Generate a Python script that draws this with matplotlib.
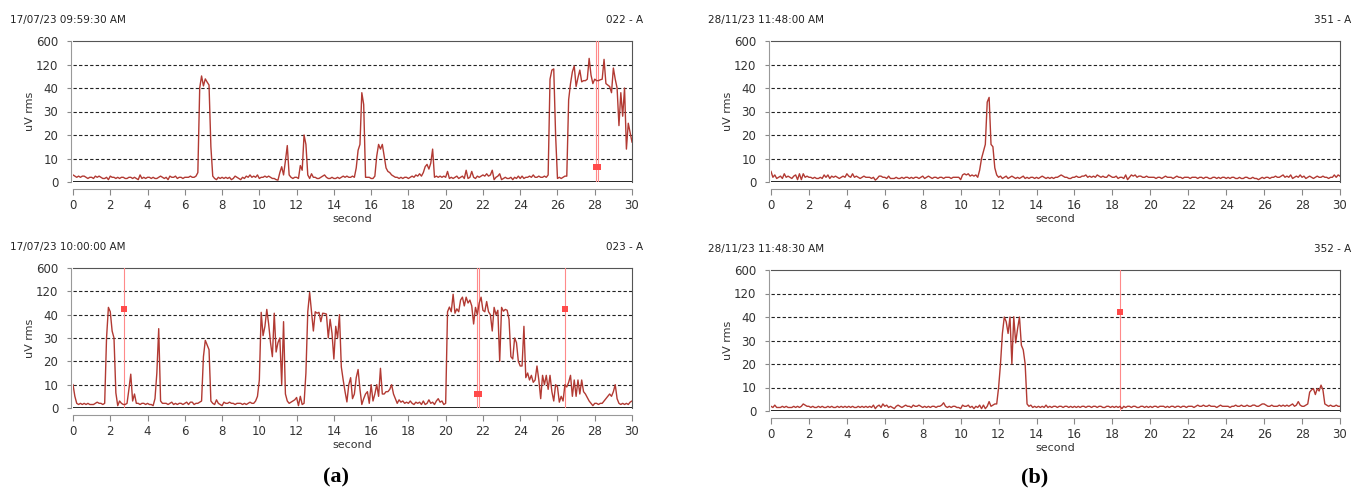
import numpy as np
import matplotlib
matplotlib.use("Agg")
import matplotlib.pyplot as plt

# y axis of the recorder: equal steps for these levels (uV rms)
levels = [0, 10, 20, 30, 40, 120, 600]
steps = [0, 1, 2, 3, 4, 5, 6]

t = np.round(np.arange(0, 30.05, 0.1), 1)

# 022 - A  (17/07/23 09:59:30 AM)
emg_022 = [
    3.0, 2.5, 2.0, 2.5, 2.0, 2.5, 2.5, 2.0, 1.5, 2.0,
    2.0, 1.5, 2.5, 2.0, 2.5, 2.0, 1.5, 1.5, 2.0, 1.0,
    2.5, 2.0, 2.0, 1.5, 2.0, 1.5, 2.0, 2.0, 1.5, 1.5,
    2.0, 2.0, 1.5, 2.0, 1.5, 1.0, 3.0, 1.5, 2.0, 1.5,
    2.0, 2.0, 1.5, 2.0, 1.5, 1.5, 2.0, 2.5, 2.0, 1.5,
    2.0, 1.0, 2.5, 2.0, 2.0, 2.5, 1.5, 2.0, 2.0, 1.5,
    2.0, 2.0, 2.0, 2.5, 2.0, 2.0, 2.5, 4.0, 40, 81,
    47, 71, 60, 50, 15, 2.5, 1.5, 1.0, 2.0, 1.5,
    2.0, 1.5, 2.0, 1.5, 2.0, 1.0, 1.5, 2.5, 2.0, 1.5,
    1.0, 2.0, 1.5, 2.5, 2.0, 3.0, 2.0, 2.5, 2.0, 3.0,
    1.5, 2.0, 2.0, 2.5, 2.0, 2.5, 2.0, 1.5, 1.5, 1.0,
    0.8, 4.0, 6.5, 3.0, 9.0, 15.5, 3.0, 2.0, 1.5, 2.0,
    2.0, 1.5, 7.0, 5.0, 20, 16, 3.0, 1.5, 3.5, 2.0,
    2.0, 1.5, 1.5, 2.0, 2.5, 3.0, 2.0, 1.5, 1.5, 2.0,
    1.5, 1.5, 2.0, 1.5, 2.0, 2.5, 2.0, 2.5, 2.0, 2.0,
    2.5, 2.0, 6.0, 13.5, 16, 38, 33, 2.0, 2.0, 2.0,
    1.5, 1.5, 2.5, 11, 16, 14, 16, 11, 6.0, 4.5,
    4.0, 3.0, 2.5, 2.0, 2.0, 1.5, 2.0, 1.5, 2.0, 2.0,
    1.5, 2.0, 2.5, 2.0, 3.0, 2.5, 3.5, 2.5, 4.0, 6.5,
    7.5, 5.5, 8.0, 14, 2.0, 2.5, 2.0, 2.5, 2.0, 2.5,
    2.0, 4.5, 1.5, 2.0, 1.5, 2.0, 2.5, 1.5, 2.0, 2.5,
    1.5, 5.0, 1.5, 2.0, 4.5, 2.0, 1.5, 2.5, 2.0, 2.5,
    3.0, 2.5, 3.5, 2.5, 3.0, 5.0, 1.0, 2.0, 2.5, 3.5,
    1.0, 1.5, 2.0, 1.5, 1.5, 2.0, 1.0, 2.0, 1.5, 2.5,
    1.5, 2.5, 1.5, 2.0, 2.0, 2.5, 2.0, 3.0, 2.0, 2.0,
    2.5, 2.0, 2.0, 2.5, 2.0, 3.0, 70, 101, 105, 20,
    1.5, 2.0, 1.5, 2.0, 2.5, 2.5, 35, 55, 95, 115,
    45, 75, 101, 61, 65, 65, 70, 245, 84, 55,
    70, 65, 65, 68, 70, 225, 55, 50, 45, 38,
    108, 70, 40, 24, 38, 28, 40, 14, 25, 21,
    17,
]

# 023 - A  (17/07/23 10:00:00 AM)
emg_023 = [
    10, 5.0, 2.0, 1.5, 2.0, 1.5, 2.0, 1.5, 2.0, 1.5,
    1.5, 1.5, 2.0, 2.5, 2.0, 2.0, 1.5, 2.0, 30, 65,
    50, 33, 30, 6.5, 1.0, 3.0, 2.0, 1.5, 1.5, 2.0,
    8.0, 14.5, 3.0, 6.0, 2.0, 2.0, 1.5, 2.0, 2.0, 1.5,
    2.0, 1.5, 1.5, 1.0, 4.0, 15, 34, 3.0, 2.0, 2.0,
    2.0, 1.5, 2.0, 2.5, 1.5, 2.0, 1.5, 2.0, 2.0, 1.5,
    2.0, 2.5, 1.5, 2.5, 2.5, 1.5, 2.0, 2.0, 2.5, 3.0,
    22, 29, 27, 25, 3.0, 2.0, 1.5, 3.5, 2.0, 1.5,
    1.0, 2.5, 2.0, 2.0, 2.5, 2.0, 2.0, 1.5, 2.0, 2.0,
    2.0, 1.5, 2.0, 1.5, 2.0, 2.5, 2.0, 2.0, 3.0, 5.0,
    12, 48, 31, 35, 58, 36, 28, 22, 45, 24,
    28, 30, 10, 37, 6.0, 3.0, 2.0, 2.5, 3.0, 3.5,
    4.5, 1.0, 5.0, 1.5, 2.0, 15, 50, 116, 50, 33,
    50, 45, 48, 37, 45, 44, 42, 30, 38, 32,
    21, 35, 30, 40, 17.6, 12, 7.0, 2.6, 10, 13,
    4.0, 6.0, 13, 16.5, 8.0, 1.5, 4.0, 6.0, 7.0, 2.0,
    10, 3.0, 6.0, 10, 5.0, 17, 6.0, 6.0, 7.0, 7.0,
    8.0, 10, 6.0, 4.0, 2.0, 3.5, 2.5, 3.0, 2.0, 2.5,
    2.0, 3.0, 2.0, 1.5, 2.5, 2.0, 2.5, 1.5, 3.0, 1.5,
    2.0, 3.5, 2.0, 2.5, 1.5, 3.0, 4.0, 2.5, 3.0, 1.5,
    2.0, 50, 66, 50, 110, 45, 60, 50, 90, 100,
    70, 100, 80, 90, 70, 36, 65, 40, 80, 100,
    55, 50, 85, 50, 40, 33, 65, 40, 55, 20,
    65, 52, 58, 55, 38, 22, 21, 30, 28, 20,
    18, 18, 35, 13, 15, 12, 14, 11, 12, 18,
    12, 4.0, 14, 10, 14, 8.0, 14, 7.0, 3.0, 10,
    9.0, 2.5, 5.0, 3.0, 10, 9.0, 11, 14, 5.0, 12,
    5.0, 12, 6.0, 12, 7.0, 6.0, 4.5, 3.0, 2.0, 1.0,
    2.0, 2.0, 1.5, 2.0, 2.0, 3.0, 4.0, 5.0, 6.0, 5.0,
    7.0, 10, 4.0, 2.0, 1.5, 2.0, 1.5, 2.0, 1.5, 2.5,
    3.0,
]

# 351 - A  (28/11/23 11:48:00 AM)
emg_351 = [
    4.5, 2.0, 3.0, 1.5, 2.0, 2.5, 1.5, 3.5, 2.0, 2.5,
    2.0, 1.5, 2.5, 3.0, 1.0, 3.5, 1.0, 3.5, 2.0, 2.5,
    2.0, 2.0, 1.5, 2.0, 1.5, 1.5, 2.0, 1.5, 3.0, 2.0,
    3.0, 1.5, 2.5, 2.0, 2.5, 2.0, 1.5, 2.0, 2.5, 2.0,
    3.5, 2.5, 2.0, 3.5, 2.0, 2.5, 2.0, 1.5, 2.0, 2.5,
    2.0, 2.0, 2.0, 1.5, 2.0, 0.8, 1.5, 2.5, 2.5, 2.0,
    2.0, 1.5, 2.5, 1.5, 1.5, 1.5, 2.0, 1.5, 1.5, 2.0,
    1.5, 2.0, 2.0, 1.5, 2.0, 1.5, 2.0, 2.0, 1.5, 2.0,
    2.5, 1.5, 2.0, 2.5, 2.0, 1.5, 2.0, 2.0, 1.5, 2.0,
    2.0, 1.5, 2.0, 2.0, 2.0, 1.5, 2.0, 2.0, 2.0, 2.0,
    1.0, 3.0, 3.5, 3.0, 3.5, 2.5, 3.0, 2.5, 3.0, 2.0,
    5.0, 10, 13, 16, 34, 36, 16, 15, 6.0, 3.0,
    2.0, 2.5, 1.5, 2.0, 2.5, 1.5, 2.0, 2.5, 2.0, 1.5,
    2.0, 1.5, 2.0, 2.5, 1.5, 2.0, 1.5, 2.0, 2.0, 1.5,
    2.0, 1.5, 2.0, 2.5, 2.0, 1.5, 2.0, 1.5, 2.0, 1.5,
    2.0, 2.0, 2.5, 3.0, 2.5, 2.0, 2.0, 1.5, 1.5, 2.0,
    2.0, 2.5, 2.0, 2.0, 2.5, 2.5, 3.0, 2.0, 2.5, 2.0,
    2.5, 2.0, 3.0, 2.5, 2.0, 2.5, 2.0, 2.0, 3.0, 2.5,
    2.0, 2.0, 2.5, 1.5, 2.0, 2.0, 1.5, 3.0, 1.0, 2.0,
    3.0, 2.5, 3.0, 2.0, 2.5, 2.5, 2.0, 2.0, 2.5, 2.0,
    2.0, 2.0, 2.0, 1.5, 2.0, 2.0, 1.5, 2.0, 2.5, 2.0,
    2.0, 2.0, 1.5, 2.0, 2.5, 2.0, 2.0, 1.5, 2.0, 2.0,
    2.0, 1.5, 2.0, 2.0, 2.0, 1.5, 2.0, 2.0, 1.5, 2.0,
    2.0, 1.5, 1.5, 2.0, 2.0, 1.5, 2.0, 1.5, 2.0, 2.0,
    1.5, 2.0, 1.5, 2.0, 2.0, 1.5, 1.5, 2.0, 1.5, 1.5,
    2.0, 2.0, 1.5, 1.5, 2.0, 1.5, 1.5, 1.0, 1.5, 2.0,
    1.5, 2.0, 2.0, 1.5, 2.0, 2.0, 2.5, 2.0, 2.0, 2.5,
    3.0, 2.0, 2.5, 2.0, 3.0, 1.5, 2.0, 2.5, 2.0, 3.0,
    2.0, 2.5, 1.5, 2.0, 2.5, 2.0, 1.5, 2.0, 2.5, 2.0,
    2.0, 2.5, 2.0, 2.0, 1.5, 2.0, 2.0, 3.0, 2.0, 3.0,
    2.5,
]

# 352 - A  (28/11/23 11:48:30 AM)
emg_352 = [
    2.0, 1.5, 2.5, 1.5, 1.5, 1.5, 2.0, 1.5, 2.0, 1.5,
    1.5, 1.5, 2.0, 1.5, 2.0, 1.5, 2.0, 3.0, 2.5, 2.0,
    2.0, 1.5, 2.0, 1.5, 1.5, 2.0, 1.5, 2.0, 1.5, 1.5,
    2.0, 1.5, 2.0, 1.5, 1.5, 2.0, 1.5, 2.0, 1.5, 2.0,
    1.5, 2.0, 1.5, 2.0, 1.5, 1.5, 2.0, 1.5, 2.0, 1.5,
    2.0, 1.5, 2.0, 1.5, 2.5, 1.0, 2.0, 2.5, 1.5, 3.0,
    2.0, 2.5, 1.5, 2.0, 1.5, 1.0, 2.0, 2.5, 2.0, 1.5,
    2.0, 2.5, 2.0, 2.0, 1.5, 2.5, 2.0, 2.0, 2.5, 2.0,
    1.5, 2.0, 1.5, 2.0, 1.5, 2.0, 2.0, 1.5, 2.0, 2.0,
    2.5, 3.5, 2.0, 1.5, 2.0, 1.5, 2.0, 2.0, 1.5, 1.5,
    1.0, 2.5, 2.0, 2.0, 2.5, 1.5, 2.0, 1.0, 2.0, 1.5,
    2.5, 1.0, 2.5, 1.0, 2.0, 4.0, 2.0, 2.5, 3.0, 3.0,
    10, 20, 33, 40, 38, 33, 40, 20, 41, 29,
    35, 40, 28, 26, 20, 3.0, 2.0, 2.5, 1.5, 2.0,
    1.5, 2.0, 1.5, 2.0, 1.5, 2.5, 1.5, 2.0, 1.5, 2.0,
    2.0, 1.5, 2.0, 2.0, 1.5, 2.0, 2.0, 1.5, 2.0, 1.5,
    2.0, 1.5, 2.0, 1.5, 2.0, 2.0, 1.5, 2.0, 2.0, 1.5,
    2.0, 2.0, 1.5, 2.0, 2.0, 1.5, 1.5, 2.0, 2.0, 1.5,
    2.0, 1.5, 2.0, 1.5, 2.0, 1.0, 2.0, 1.5, 2.0, 2.0,
    1.5, 2.0, 2.0, 1.5, 1.5, 2.0, 2.0, 1.5, 2.0, 1.5,
    2.0, 1.5, 2.0, 2.0, 1.5, 2.0, 2.0, 2.0, 1.5, 2.0,
    1.5, 2.0, 2.0, 1.5, 2.0, 2.0, 1.5, 2.0, 2.0, 1.5,
    2.0, 2.0, 2.0, 1.5, 2.0, 2.5, 2.0, 2.0, 2.5, 2.0,
    2.0, 2.5, 2.0, 2.0, 2.0, 1.5, 2.0, 2.5, 2.0, 2.0,
    2.0, 2.0, 1.5, 2.0, 2.0, 2.5, 2.0, 2.0, 2.5, 2.0,
    2.0, 2.5, 2.0, 2.0, 2.5, 2.5, 2.0, 2.0, 2.5, 3.0,
    3.0, 2.5, 2.0, 2.0, 2.5, 2.0, 2.0, 2.0, 2.5, 2.0,
    2.5, 2.0, 2.5, 2.0, 2.5, 3.0, 2.0, 2.5, 4.0, 2.5,
    2.0, 2.0, 2.5, 3.0, 8.0, 9.0, 9.5, 7.0, 9.5, 8.5,
    11, 9.0, 3.0, 2.5, 2.0, 2.5, 2.0, 2.0, 2.5, 2.0,
    2.0,
]

# cursor lines (s) and their marker values (uV)
cur_022_t = [28.06, 28.18]
cur_022_v = [6.4, 6.4]
cur_023_t = [2.75, 21.67, 21.81, 26.39]
cur_023_v = [58, 6.0, 6.0, 58]
cur_351_t = []
cur_351_v = []
cur_352_t = [18.4]
cur_352_v = [58]

panels = [
    # data, stamp, channel, cursors t, cursors v, axes rect (px: left, top, right, bottom)
    (emg_022, "17/07/23 09:59:30 AM", "022 - A", cur_022_t, cur_022_v, (73, 41, 632, 182)),
    (emg_351, "28/11/23 11:48:00 AM", "351 - A", cur_351_t, cur_351_v, (771, 41, 1340, 182)),
    (emg_023, "17/07/23 10:00:00 AM", "023 - A", cur_023_t, cur_023_v, (73, 268, 632, 408)),
    (emg_352, "28/11/23 11:48:30 AM", "352 - A", cur_352_t, cur_352_v, (771, 270, 1340, 411)),
]

W, H = 1365, 491
fig = plt.figure(figsize=(W / 100, H / 100), dpi=100)
plt.rcParams['font.family'] = ['DejaVu Sans']


def fwd(v):
    return np.interp(v, levels, steps)


def inv(p):
    return np.interp(p, steps, levels)


line_col = '#b23a33'
for data, stamp, chan, ct, cv, (l, tp, r, b) in panels:
    ax = fig.add_axes([l / W, 1 - b / H, (r - l) / W, (b - tp) / H])
    ax.set_yscale('function', functions=(fwd, inv))
    ax.set_ylim(0, 600)
    ax.set_xlim(0, 30)
    for lv in levels[1:-1]:
        ax.axhline(lv, color='#222222', lw=0.8, dashes=(3, 2), zorder=1)
    ax.axhline(0, color='black', lw=1.2, zorder=2)
    for x in ct:
        ax.axvline(x, color='#ff8a8a', lw=0.8, zorder=3)
    ax.plot(t, data, color=line_col, lw=1.0, zorder=4)
    if ct:
        ax.scatter(ct, cv, marker='s', s=18, color='#ff4a4a', zorder=5, linewidths=0)

    ax.set_yticks(levels)
    ax.set_yticklabels([str(v) for v in levels])
    ax.set_xticks(range(0, 31, 2))
    ax.tick_params(axis='both', labelsize=8.5, length=3, width=0.8)
    ax.tick_params(axis='x', colors='#888888', labelcolor='#333333', length=4, pad=3)
    ax.tick_params(axis='y', colors='#888888', labelcolor='#333333', pad=6)
    ax.spines['bottom'].set_position(('outward', 5))
    ax.spines['bottom'].set_color('#999999')
    ax.spines['left'].set_position(('outward', 1.5))
    ax.spines['left'].set_color('#999999')
    ax.spines['top'].set_color('#555555')
    ax.spines['right'].set_color('#555555')
    ax.set_xlabel('second', fontsize=8, color='#333333', labelpad=2)
    ax.set_ylabel('uV rms', fontsize=8, color='#333333', labelpad=1)

    fig.text((l - 63) / W, 1 - (tp - 21) / H, stamp, fontsize=7.5, color='#222222',
             ha='left', va='center')
    fig.text((r + 11) / W, 1 - (tp - 21) / H, chan, fontsize=7.5, color='#222222',
             ha='right', va='center')

fig.text(336 / W, 1 - 477 / H, '(a)', fontsize=16, fontweight='bold',
         family='Liberation Serif', ha='center', va='center')
fig.text(1035 / W, 1 - 477 / H, '(b)', fontsize=16, fontweight='bold',
         family='Liberation Serif', ha='center', va='center')

fig.savefig('out.png', dpi=100)
